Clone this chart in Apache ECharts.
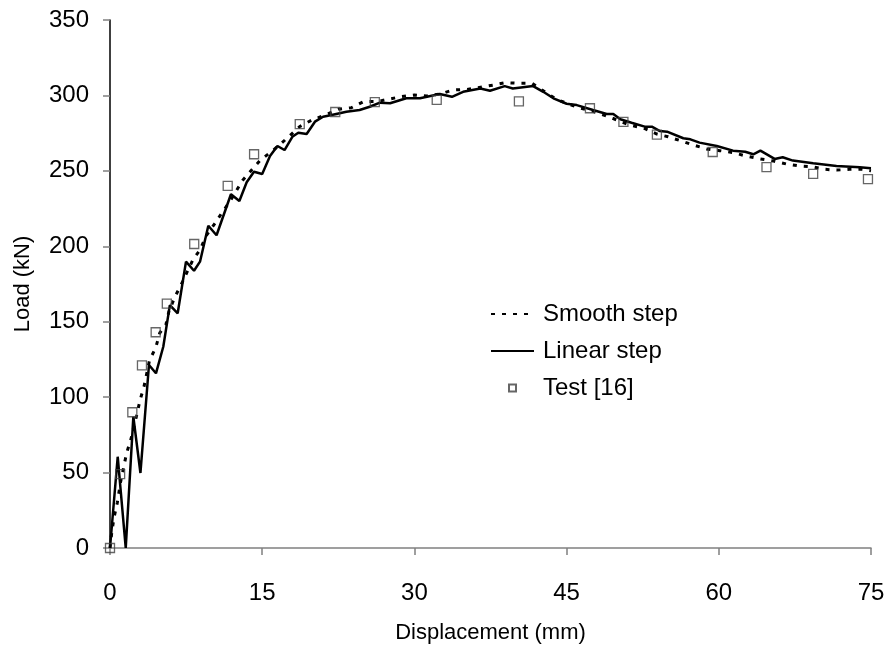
<!DOCTYPE html>
<html>
<head>
<meta charset="utf-8">
<script src="https://cdn.jsdelivr.net/npm/echarts@6/dist/echarts.min.js"></script>
<style>
html,body{margin:0;padding:0;background:#fff;}
#chart{width:891px;height:650px;}
</style>
</head>
<body>
<div id="chart"></div>
<script>
// Tick labels
const xTicks = [0, 15, 30, 45, 60, 75];
const yTicks = [0, 50, 100, 150, 200, 250, 300, 350];

// Smooth step (FE) curve
const smoothX = [0,0.17,0.39,0.72,1.05,1.64,2.04,2.63,2.96,3.35,3.9,4.5,4.9,5.5,5.8,6.4,7.0,7.6,8.2,8.87,9.46,10.35,11,11.8,13.1,14.8,16.1,16.9,18.7,19.9,21.2,22.5,23.8,25.0,26.3,28.7,30.0,31.2,32.5,33.8,35.2,37.8,39.0,40.3,41.6,42.7,44.0,45.3,46.3,47.6,48.95,51.2,52.6,53.9,55.0,56.3,57.5,58.8,60.1,61.4,62.7,64.1,65.4,66.7,68.0,69.2,70.5,71.6,72.9,74.1,75];
const smoothY = [0,10,20,30,44,63,71.6,88,98,107,124.6,132.6,142.5,147.8,156.6,166.6,174.3,183,191.4,197.5,206.8,215.2,221.9,229.6,244,257,263.8,268.3,279.4,283.7,287,290.8,291.9,295.9,295.9,299.2,300.3,299.6,300.9,303.6,304,306.9,308.5,308,308,303.1,297.4,294.1,291.6,289.4,286.4,280.4,278.3,274.4,272.6,269.8,267.1,264.5,263.4,262.1,259.8,257.9,256.5,254.5,253.2,252.7,251,250.5,251,251,250];

// Linear step (FE) curve
const linearX = [0,0.76,1.55,2.3,3.0,3.84,4.53,5.25,5.9,6.67,7.49,8.28,8.87,9.69,10.5,11.92,12.75,13.47,14.19,15.0,15.77,16.5,17.2,17.97,18.56,19.38,20.2,21.0,21.85,23.3,24.6,25.6,26.6,27.6,29.2,30.55,32.5,33.7,34.8,36.5,37.45,38.9,39.7,41.7,42.7,43.7,45.0,46.0,47.6,48.95,49.6,50.3,51.4,52.7,53.4,54.2,54.9,56.5,57.2,58.1,59.8,61.4,62.6,63.4,64.1,65.5,66.3,67.3,69.3,71.6,73.9,75];
const linearY = [0,60.5,0,87,49.7,121.3,115.8,133.4,161,155.6,189.8,183.8,189.8,213.6,207.3,234.5,230,242.4,249.4,247.9,259.8,266.5,263.8,272.6,275.3,274.4,282.6,285.9,287,289.2,290.3,292.5,295.2,294.8,298.1,298.1,300.9,299.1,302.4,304.6,303.1,306.2,304.6,306.2,302.4,298.1,294.5,293.6,290.3,287.7,287.7,284.2,281.9,279.3,279.3,276.4,276,271.6,270.9,268.7,266.5,263.4,262.7,261,263.4,257.9,259,256.8,255,253.2,252.4,251.8];

// Test [16]
const testX = [0,1.0,2.2,3.15,4.5,5.6,8.3,11.6,14.2,18.7,22.2,26.1,32.2,40.3,47.3,50.6,53.9,59.4,64.7,69.3,74.7];
const testY = [0,49,90,121,143,162,201.5,240,261,281,289,295.5,297,296,291.5,282.5,274,262.5,252.5,248,244.5];

const seriesNames = ['Smooth step', 'Linear step', 'Test [16]'];

const zip = (xs, ys) => xs.map((x, i) => [x, ys[i]]);
const FONT = '"Liberation Sans", Arial, sans-serif';
const hiddenSymbol = {color: 'rgba(0,0,0,0)', borderWidth: 0, opacity: 0};

const chart = echarts.init(document.getElementById('chart'), null, {renderer: 'canvas'});
chart.setOption({
  animation: false,
  backgroundColor: '#fff',
  textStyle: {fontFamily: FONT},
  grid: {left: 110, right: 20, top: 20, bottom: 102, containLabel: false},
  legend: {
    orient: 'vertical',
    left: 485,
    top: 297,
    padding: 5,
    itemWidth: 43,
    itemHeight: 10,
    itemGap: 13,
    textStyle: {fontSize: 24, color: '#000', fontFamily: FONT, padding: [0, 0, 0, 4]},
    data: [
      {name: seriesNames[0], itemStyle: hiddenSymbol},
      {name: seriesNames[1], itemStyle: hiddenSymbol},
      {name: seriesNames[2], icon: 'path://M0,0M43,10M18,1.5h7v7h-7z'}
    ]
  },
  xAxis: {
    type: 'value',
    min: xTicks[0], max: xTicks[xTicks.length - 1], interval: 15,
    name: 'Displacement (mm)', nameLocation: 'middle', nameGap: 74,
    nameTextStyle: {fontSize: 22, color: '#000', fontFamily: FONT},
    axisLine: {show: true, onZero: false, lineStyle: {color: '#808080', width: 1.5}},
    axisTick: {show: true, inside: false, length: 7, lineStyle: {color: '#808080', width: 1.5}},
    axisLabel: {fontSize: 24, color: '#000', margin: 33, fontFamily: FONT},
    splitLine: {show: false}
  },
  yAxis: {
    type: 'value',
    min: yTicks[0], max: yTicks[yTicks.length - 1], interval: 50,
    name: 'Load (kN)', nameLocation: 'middle', nameGap: 76,
    nameTextStyle: {fontSize: 22, color: '#000', fontFamily: FONT},
    axisLine: {show: true, lineStyle: {color: '#000', width: 1.5}},
    axisTick: {show: true, inside: false, length: 7, lineStyle: {color: '#808080', width: 1.5}},
    axisLabel: {fontSize: 24, color: '#000', margin: 21, fontFamily: FONT},
    splitLine: {show: false}
  },
  series: [
    {
      name: seriesNames[0], type: 'line', data: zip(smoothX, smoothY),
      symbol: 'none', smooth: false,
      lineStyle: {color: '#000', width: 3, type: [4, 7]},
      itemStyle: {color: '#000'}, z: 2
    },
    {
      name: seriesNames[1], type: 'line', data: zip(linearX, linearY),
      symbol: 'none', smooth: false,
      lineStyle: {color: '#000', width: 2.5, type: 'solid'},
      itemStyle: {color: '#000'}, z: 3
    },
    {
      name: seriesNames[2], type: 'scatter', data: zip(testX, testY),
      symbol: 'rect', symbolSize: 9,
      itemStyle: {color: 'rgba(255,255,255,0)', borderColor: '#404040', borderWidth: 1.3}, z: 4
    }
  ]
});
</script>
</body>
</html>
